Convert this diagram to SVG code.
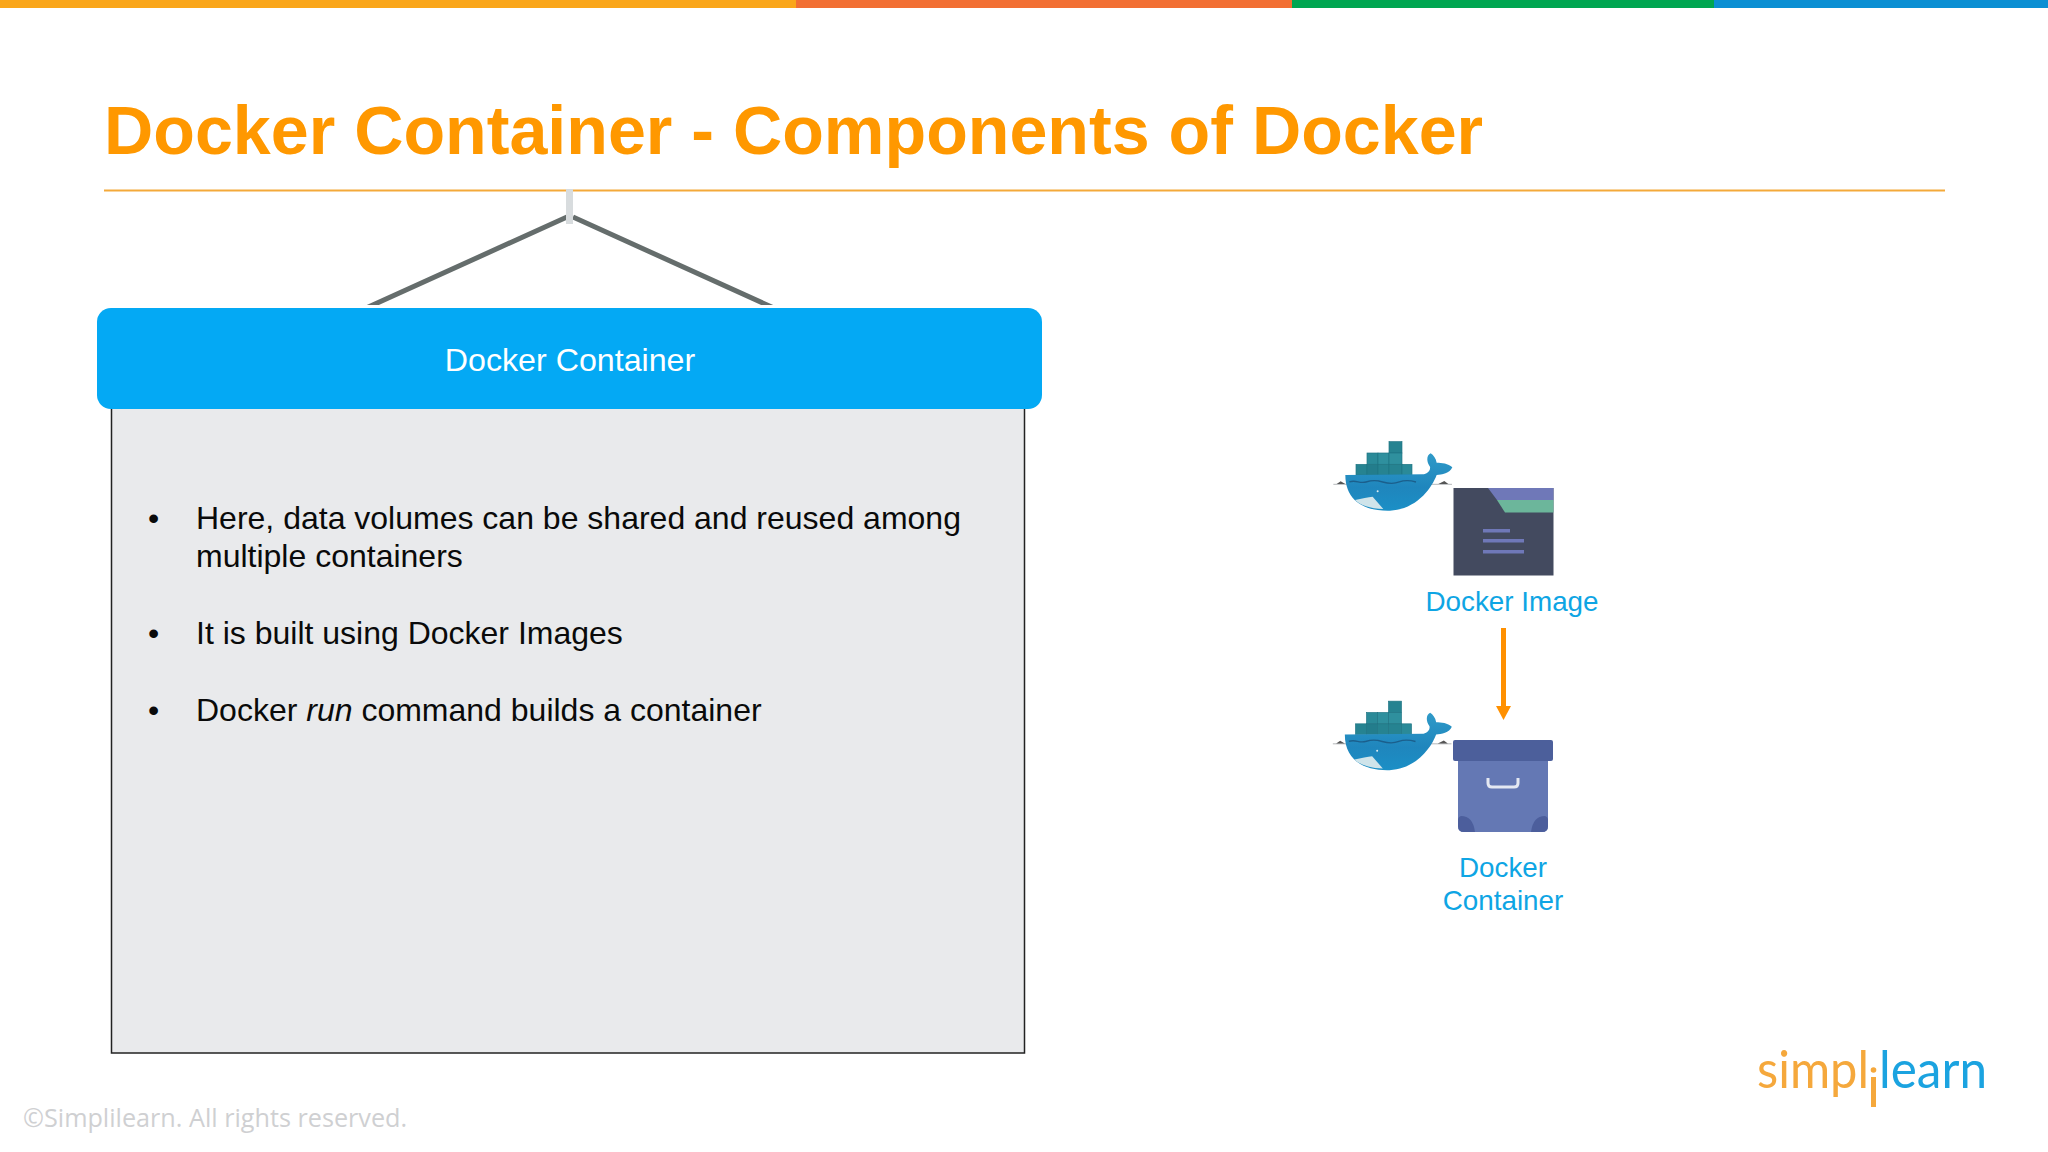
<svg xmlns="http://www.w3.org/2000/svg" width="2048" height="1152" viewBox="0 0 2048 1152">
<style>
text{font-family:"Liberation Sans",Arial,sans-serif}
.b{font-size:32px;fill:#0a0a0a}
.l{font-size:27.800px;fill:#0ea5e4;text-anchor:middle}
.hang{stroke:#656d6c;stroke-width:5;fill:none}
</style>
<defs>
<clipPath id="hangclip"><rect x="300" y="180" width="540" height="125"/></clipPath>
<linearGradient id="hull" x1="0" y1="0" x2="0" y2="1"><stop offset="0" stop-color="#2f9ac8"/><stop offset=".6" stop-color="#1f86bd"/><stop offset="1" stop-color="#1b8fc6"/></linearGradient>
<g id="whale">
<path d="M100 193H456" stroke="#b5b8ba" stroke-width="3"/>
<path d="M110 192l12-8 14 8zM415 192l18-9 12 9z" fill="#555"/>
<g stroke="#1f7483" stroke-width="2">
<rect x="168" y="133" width="33" height="32" fill="#268391"/>
<rect x="201" y="99" width="33" height="34" fill="#2a8a98"/>
<rect x="201" y="133" width="33" height="32" fill="#237d8c"/>
<rect x="234" y="99" width="33" height="34" fill="#2f909e"/>
<rect x="234" y="133" width="33" height="32" fill="#268391"/>
<rect x="267" y="65" width="39" height="34" fill="#268391"/>
<rect x="267" y="99" width="39" height="34" fill="#2f909e"/>
<rect x="267" y="133" width="39" height="32" fill="#268391"/>
<rect x="306" y="133" width="30" height="32" fill="#2a8a98"/>
</g>
<path d="M136 165L372 163C385 160 392 150 390 140C378 125 380 105 392 100C400 105 408 115 410 128C425 128 445 130 457 142C450 160 425 165 410 165C395 205 350 268 270 272C196 274 136 244 136 165Z" fill="url(#hull)"/>
<path d="M148 186c20-8 30 6 50 0s30-6 50 0 35 6 50 0 30-6 50 0" fill="none" stroke="#1b5f8c" stroke-width="4"/>
<path d="M165 240C185 235 205 232 218 230L250 267C210 266 180 255 165 240Z" fill="#cfe4ea"/>
<circle cx="233" cy="214" r="3" fill="#dcecf2"/>
</g>
</defs>
<rect width="2048" height="1152" fill="#fff"/>
<g id="top-bar">
<rect x="0" y="0" width="796" height="8" fill="#faa61a"/>
<rect x="796" y="0" width="496" height="8" fill="#f26f33"/>
<rect x="1292" y="0" width="422" height="8" fill="#00a651"/>
<rect x="1714" y="0" width="334" height="8" fill="#0b8fd3"/>
</g>
<g id="title">
<text x="104" y="154" font-size="68.200" font-weight="700" fill="#ff9800">Docker Container - Components of Docker</text>
<rect x="104" y="189.500" width="1841" height="2" fill="#f4a93a"/>
</g>
<g id="connectors">
<path class="hang" clip-path="url(#hangclip)" d="M364 309L567 217M573 217L776 309"/>
<rect x="566" y="189" width="7" height="35" fill="#d8dcde"/>
<path d="M1503.500 628V712" stroke="#ff9000" stroke-width="5" fill="none"/>
<path d="M1496 706H1511L1503.500 720Z" fill="#ff9000"/>
</g>
<g id="node-docker-container-panel">
<rect x="111.500" y="408" width="913" height="645" fill="#e9eaec" stroke="#222" stroke-width="1.500"/>
<rect x="97" y="308" width="945" height="101" rx="14" fill="#04a9f4"/>
<text x="570" y="370.500" font-size="32.200" fill="#fff" text-anchor="middle">Docker Container</text>
<text class="b" x="148" y="528.500">•</text>
<text class="b" x="196" y="528.500">Here, data volumes can be shared and reused among</text>
<text class="b" x="196" y="567">multiple containers</text>
<text class="b" x="148" y="643.500">•</text>
<text class="b" x="196" y="643.500">It is built using Docker Images</text>
<text class="b" x="148" y="720.500">•</text>
<text class="b" x="196" y="720.500">Docker <tspan font-style="italic">run</tspan> command builds a container</text>
</g>
<g id="node-docker-image">
<use href="#whale" transform="translate(1300 420) scale(.3333)"/>
<rect x="1453.500" y="488" width="100" height="87.500" fill="#434a5f"/>
<path d="M1488 488H1553.500V500H1497Z" fill="#6f78b8"/>
<path d="M1497 500H1553.500V512.500H1505Z" fill="#6cb69b"/>
<rect x="1483" y="529" width="27" height="3.500" fill="#6f78b8"/>
<rect x="1483" y="539" width="41" height="3.500" fill="#6f78b8"/>
<rect x="1483" y="550" width="41" height="3.500" fill="#6f78b8"/>
<text class="l" x="1512" y="611">Docker Image</text>
</g>
<g id="node-docker-container">
<use href="#whale" transform="translate(1299.500 679.500) scale(.3333)"/>
<path d="M1458 760H1548V826Q1548 832 1542 832H1464Q1458 832 1458 826Z" fill="#6478b4"/>
<path d="M1458 820Q1458 817 1461 816Q1473 816 1475 832H1464Q1458 832 1458 826Z" fill="#4c5e9c"/>
<path d="M1548 820Q1548 817 1545 816Q1533 816 1531 832H1542Q1548 832 1548 826Z" fill="#4c5e9c"/>
<rect x="1453" y="740" width="100" height="21" rx="2" fill="#4c5f9b"/>
<path d="M1488 778V783Q1488 787 1492 787H1514Q1518 787 1518 783V778" fill="none" stroke="#e4e8f2" stroke-width="3"/>
<text class="l" x="1503" y="877">Docker</text>
<text class="l" x="1503" y="910">Container</text>
</g>
<g id="logo">
<text x="1757" y="1088" font-size="52" fill="#f5a83c" textLength="112" lengthAdjust="spacingAndGlyphs" style="font-family:Lato,sans-serif">simpl</text>
<rect x="1871" y="1077" width="5" height="30" fill="#f5a83c"/>
<circle cx="1873.500" cy="1070" r="2.800" fill="#f5a83c"/>
<text x="1879" y="1088" font-size="52" fill="#1ba3e0" textLength="108" lengthAdjust="spacingAndGlyphs" style="font-family:Lato,sans-serif">learn</text>
</g>
<text id="copyright" x="23" y="1127" font-size="25.200" fill="#cfd0d2" style="font-family:'Open Sans',sans-serif">©Simplilearn. All rights reserved.</text>
</svg>
